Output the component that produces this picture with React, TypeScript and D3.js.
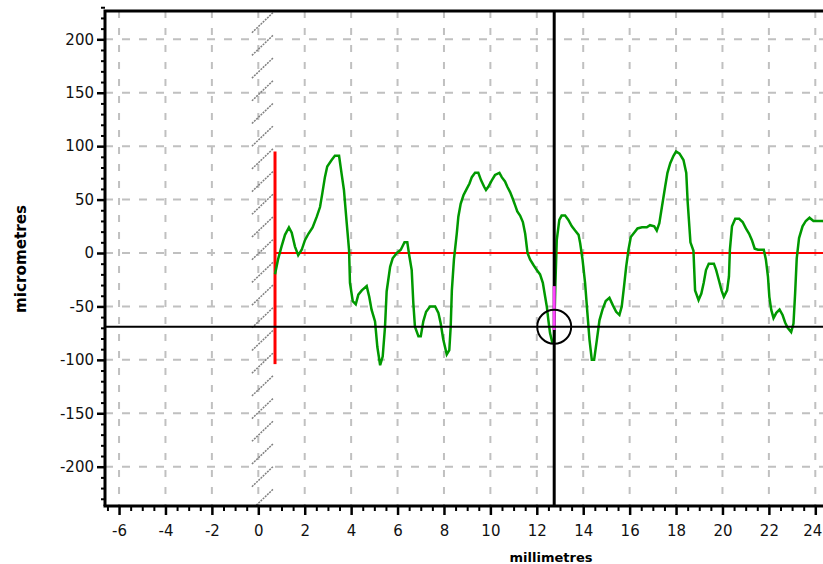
import React, { useEffect, useRef } from "react";
import * as d3 from "d3";

// profile (millimetres vs micrometres)
const profileMm = [0.72, 0.85, 1.0, 1.15, 1.32, 1.44, 1.58, 1.72, 1.87, 2.01, 2.16, 2.34, 2.52, 2.66, 2.76, 2.87, 2.97, 3.16, 3.3, 3.48, 3.59, 3.69, 3.81, 3.91, 3.95, 4.07, 4.2, 4.31, 4.46, 4.67, 4.78, 4.88, 5.03, 5.13, 5.25, 5.36, 5.46, 5.53, 5.68, 5.79, 5.97, 6.14, 6.3, 6.42, 6.51, 6.61, 6.68, 6.75, 6.9, 7.0, 7.11, 7.23, 7.4, 7.62, 7.76, 7.86, 7.97, 8.12, 8.23, 8.29, 8.34, 8.43, 8.55, 8.62, 8.72, 8.84, 8.98, 9.1, 9.2, 9.34, 9.48, 9.6, 9.73, 9.81, 9.91, 10.06, 10.2, 10.39, 10.49, 10.63, 10.73, 10.85, 10.96, 11.06, 11.16, 11.28, 11.4, 11.5, 11.6, 11.71, 11.85, 12.0, 12.14, 12.26, 12.36, 12.43, 12.5, 12.57, 12.67, 12.74, 12.8, 12.86, 12.97, 13.07, 13.22, 13.36, 13.51, 13.65, 13.8, 13.87, 13.97, 14.08, 14.18, 14.27, 14.37, 14.47, 14.59, 14.7, 14.83, 14.97, 15.13, 15.28, 15.42, 15.56, 15.66, 15.76, 15.85, 15.95, 16.05, 16.16, 16.34, 16.53, 16.74, 16.88, 17.06, 17.17, 17.28, 17.39, 17.53, 17.63, 17.75, 17.89, 18.0, 18.15, 18.32, 18.44, 18.5, 18.62, 18.75, 18.82, 18.97, 19.09, 19.19, 19.29, 19.41, 19.63, 19.73, 19.84, 19.96, 20.06, 20.2, 20.28, 20.32, 20.41, 20.55, 20.72, 20.87, 21.01, 21.15, 21.27, 21.39, 21.53, 21.78, 21.87, 21.96, 22.02, 22.1, 22.2, 22.32, 22.46, 22.59, 22.7, 22.81, 22.96, 23.06, 23.13, 23.2, 23.3, 23.45, 23.59, 23.75, 23.92, 24.14, 24.36, 24.43];
const profileUm = [-20, -6, 6, 17, 24, 19, 6, -2, 3, 12, 18, 24, 34, 43, 56, 71, 81, 87, 91, 91, 74, 59, 28, 3, -28, -45, -48, -39, -35, -31, -41, -53, -64, -88, -105, -97, -69, -36, -13, -5, 0, 3, 10, 10, -3, -16, -47, -69, -78, -78, -64, -55, -50, -50, -56, -66, -81, -95, -91, -69, -35, -6, 18, 34, 46, 54, 60, 65, 71, 75, 75, 68, 62, 59, 62, 68, 73, 75, 71, 67, 62, 57, 51, 45, 39, 35, 29, 18, 0, -6, -11, -16, -20, -28, -41, -50, -63, -75, -84, -84, -30, 12, 31, 35, 35, 31, 25, 21, 17, 9, -6, -28, -56, -81, -100, -100, -81, -63, -53, -45, -42, -49, -55, -58, -50, -31, -13, 3, 15, 18, 23, 24, 24, 26, 25, 21, 28, 43, 62, 75, 84, 91, 95, 93, 87, 75, 48, 10, 2, -35, -44, -38, -28, -16, -10, -10, -16, -25, -35, -41, -35, -22, 3, 25, 32, 32, 29, 23, 18, 12, 4, 3, 3, -6, -22, -41, -53, -61, -56, -53, -58, -65, -70, -74, -66, -38, -5, 14, 25, 30, 33, 30, 30, 30, 26];

const xTickValues = [-6, -4, -2, 0, 2, 4, 6, 8, 10, 12, 14, 16, 18, 20, 22, 24];
const yTickValues = [-200, -150, -100, -50, 0, 50, 100, 150, 200];

// cursor, reference marker and datum hatch
const cursorMm = 12.75;
const cursorUm = -69;
const cursorHighlight = [-31, -72];
const markerMm = 0.72;
const markerSpan = [95, -104];
const hatchMm = 0.63;

const App = () => {
  const svgRef = useRef<SVGSVGElement>(null);

  useEffect(() => {
    const width = 823;
    const height = 564;
    const margin = { top: 11, left: 105, bottom: 506 };

    const x = d3.scaleLinear().domain([0, 24]).range([258.3, 815.3]);
    const y = d3.scaleLinear().domain([0, 200]).range([253, 39.3]);

    const svg = d3.select(svgRef.current);
    svg.selectAll("*").remove();
    svg.attr("width", width).attr("height", height);

    svg.append("defs")
      .append("clipPath")
      .attr("id", "plot-area")
      .append("rect")
      .attr("x", margin.left)
      .attr("y", margin.top)
      .attr("width", width - margin.left + 10)
      .attr("height", margin.bottom - margin.top);

    const plot = svg.append("g").attr("clip-path", "url(#plot-area)");

    // dashed grid
    plot.selectAll(".vgrid")
      .data(xTickValues)
      .join("line")
      .attr("x1", (d) => x(d))
      .attr("x2", (d) => x(d))
      .attr("y1", margin.top)
      .attr("y2", margin.bottom)
      .attr("stroke", "#c0c0c0")
      .attr("stroke-width", 2)
      .attr("stroke-dasharray", "7,10");

    plot.selectAll(".hgrid")
      .data(yTickValues)
      .join("line")
      .attr("x1", margin.left)
      .attr("x2", width)
      .attr("y1", (d) => y(d))
      .attr("y2", (d) => y(d))
      .attr("stroke", "#c0c0c0")
      .attr("stroke-width", 2)
      .attr("stroke-dasharray", "8,9");

    // hatched datum column
    const hx = x(hatchMm);
    plot.selectAll(".hatch")
      .data(d3.range(margin.top - 21, margin.bottom + 23, 22.7))
      .join("line")
      .attr("x1", hx - 21)
      .attr("y1", (d) => d + 20)
      .attr("x2", hx)
      .attr("y2", (d) => d)
      .attr("stroke", "#808080")
      .attr("stroke-width", 1.5)
      .attr("stroke-dasharray", "2,1");

    // red reference marker
    plot.append("line")
      .attr("x1", x(markerMm))
      .attr("x2", x(markerMm))
      .attr("y1", y(markerSpan[0]))
      .attr("y2", y(markerSpan[1]))
      .attr("stroke", "#ff0000")
      .attr("stroke-width", 3);
    plot.append("line")
      .attr("x1", x(markerMm))
      .attr("x2", width)
      .attr("y1", y(0))
      .attr("y2", y(0))
      .attr("stroke", "#ff0000")
      .attr("stroke-width", 2);

    // profile
    const line = d3.line<number>()
      .x((d, i) => x(profileMm[i]))
      .y((d) => y(d));
    plot.append("path")
      .datum(profileUm)
      .attr("d", line)
      .attr("fill", "none")
      .attr("stroke", "#009900")
      .attr("stroke-width", 2.5)
      .attr("stroke-linejoin", "miter");

    // cursor
    plot.append("line")
      .attr("x1", x(cursorMm))
      .attr("x2", x(cursorMm))
      .attr("y1", margin.top)
      .attr("y2", margin.bottom)
      .attr("stroke", "#000")
      .attr("stroke-width", 3);
    plot.append("line")
      .attr("x1", x(cursorMm))
      .attr("x2", x(cursorMm))
      .attr("y1", y(cursorHighlight[0]))
      .attr("y2", y(cursorHighlight[1]))
      .attr("stroke", "#ff44ff")
      .attr("stroke-width", 3);
    plot.append("line")
      .attr("x1", margin.left)
      .attr("x2", width)
      .attr("y1", y(cursorUm))
      .attr("y2", y(cursorUm))
      .attr("stroke", "#000")
      .attr("stroke-width", 2);
    plot.append("circle")
      .attr("cx", x(cursorMm))
      .attr("cy", y(cursorUm))
      .attr("r", 17)
      .attr("fill", "none")
      .attr("stroke", "#000")
      .attr("stroke-width", 2);

    // axes
    const font = "'DejaVu Sans', sans-serif";
    const yMinor = d3.range(-230, 231, 10).filter((v) => v % 50 !== 0);
    const xMinor = d3.range(-6.5, 24.5, 0.5).filter((v) => v % 2 !== 0);

    const yAxis = svg.append("g")
      .attr("transform", `translate(${margin.left},0)`)
      .call(d3.axisLeft(y).tickValues(yTickValues).tickSize(8).tickPadding(3).tickFormat((d) => String(d)));
    yAxis.select(".domain").remove();
    yAxis.selectAll("line").attr("stroke-width", 2.5);
    yAxis.selectAll("text").attr("font-family", font).attr("font-size", 15).attr("fill", "#111");

    const yAxisMinor = svg.append("g")
      .attr("transform", `translate(${margin.left},0)`)
      .call(d3.axisLeft(y).tickValues(yMinor).tickSize(4).tickFormat(() => ""));
    yAxisMinor.select(".domain").remove();
    yAxisMinor.selectAll("line").attr("stroke-width", 2);

    const xAxis = svg.append("g")
      .attr("transform", `translate(0,${margin.bottom})`)
      .call(d3.axisBottom(x).tickValues(xTickValues).tickSize(9).tickPadding(10).tickFormat((d) => String(d)));
    xAxis.select(".domain").remove();
    xAxis.selectAll("line").attr("stroke-width", 2.5);
    xAxis.selectAll("text")
      .attr("font-family", font)
      .attr("font-size", 15)
      .attr("fill", "#111")
      .attr("dx", (d) => (d === 24 ? -3 : 0));

    const xAxisMinor = svg.append("g")
      .attr("transform", `translate(0,${margin.bottom})`)
      .call(d3.axisBottom(x).tickValues(xMinor).tickSize(5).tickFormat(() => ""));
    xAxisMinor.select(".domain").remove();
    xAxisMinor.selectAll("line").attr("stroke-width", 2);

    // frame
    svg.append("path")
      .attr("d", `M${margin.left},${margin.bottom}V${margin.top}H${width}`)
      .attr("fill", "none")
      .attr("stroke", "#000")
      .attr("stroke-width", 3);
    svg.append("line")
      .attr("x1", margin.left - 1.5)
      .attr("x2", width)
      .attr("y1", margin.bottom)
      .attr("y2", margin.bottom)
      .attr("stroke", "#000")
      .attr("stroke-width", 3);

    // axis titles
    svg.append("text")
      .attr("transform", "translate(26,259) rotate(-90)")
      .attr("text-anchor", "middle")
      .attr("font-family", font)
      .attr("font-weight", "bold")
      .attr("font-size", 16)
      .attr("textLength", 108)
      .attr("lengthAdjust", "spacingAndGlyphs")
      .text("micrometres");
    svg.append("text")
      .attr("x", 551)
      .attr("y", 562)
      .attr("text-anchor", "middle")
      .attr("font-family", font)
      .attr("font-weight", "bold")
      .attr("font-size", 13)
      .text("millimetres");
  }, []);

  return (
    <svg ref={svgRef} style={{ position: "absolute", left: 0, top: 0, background: "#fff" }} />
  );
};

export default App;
